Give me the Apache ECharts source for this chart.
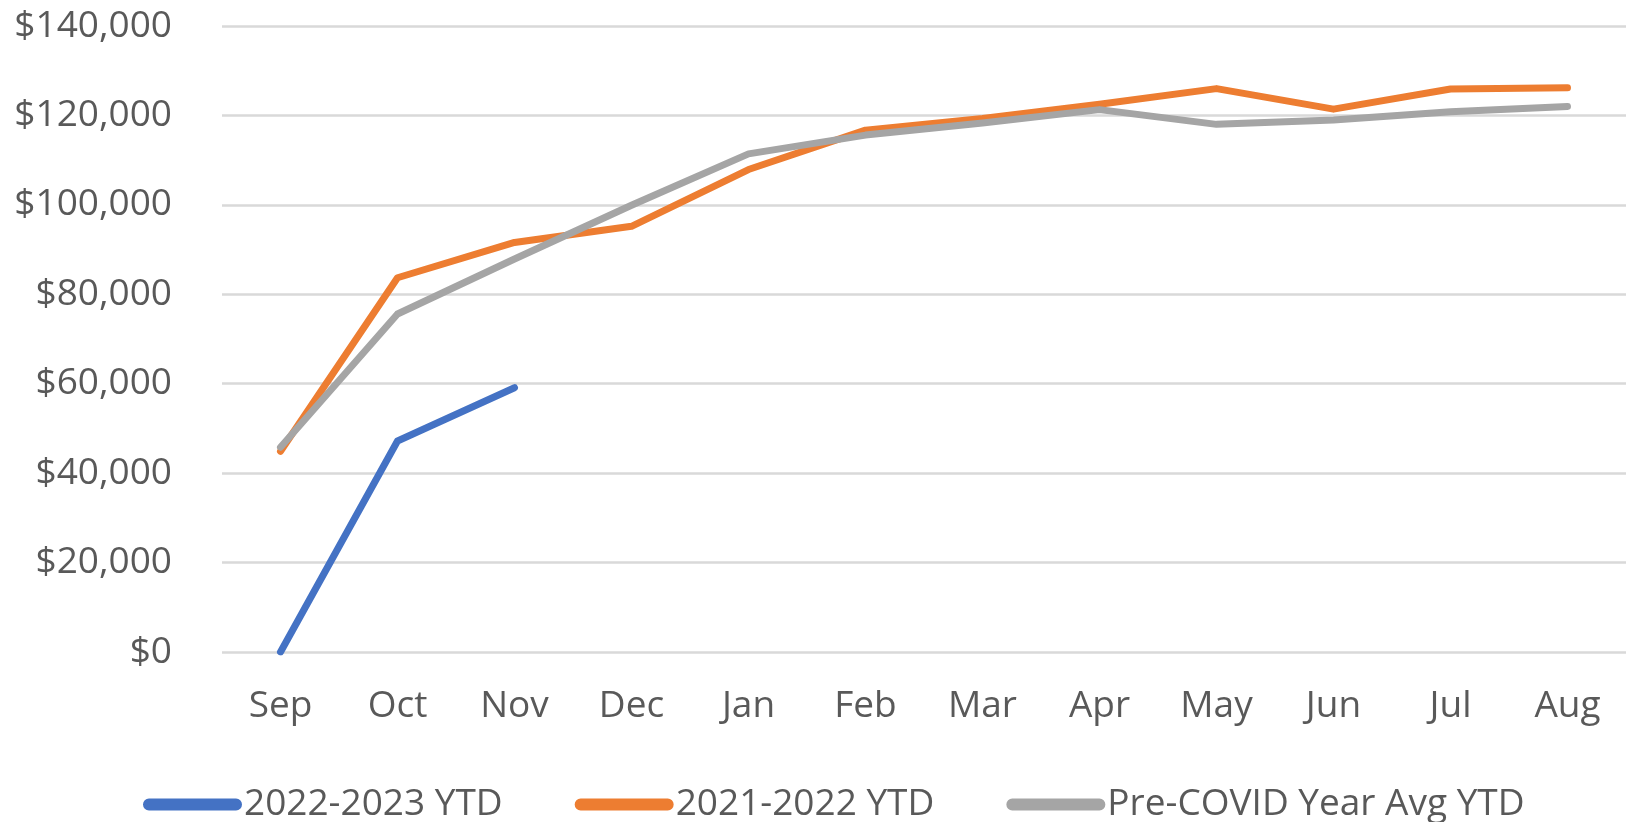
<!DOCTYPE html>
<html>
<head>
<meta charset="utf-8">
<script src="https://cdn.jsdelivr.net/npm/echarts@6/dist/echarts.min.js"></script>
<style>
  html, body { margin: 0; padding: 0; background: #fff; }
  #ytdChart { width: 1631px; height: 822px; }
</style>
</head>
<body>
<div id="ytdChart"></div>
<script>
var months = ['Sep', 'Oct', 'Nov', 'Dec', 'Jan', 'Feb', 'Mar', 'Apr', 'May', 'Jun', 'Jul', 'Aug'];
var ytd2223 = [0, 47200, 59100, null, null, null, null, null, null, null, null, null];
var ytd2122 = [44900, 83700, 91600, 95200, 107900, 116700, 119300, 122500, 126000, 121400, 125900, 126200];
var preCovid = [45800, 75600, 87900, 99900, 111400, 115600, 118300, 121300, 118000, 119000, 120800, 122000];
var yTicks = [0, 20000, 40000, 60000, 80000, 100000, 120000, 140000];

var names = ['2022-2023 YTD', '2021-2022 YTD', 'Pre-COVID Year Avg YTD'];
var colors = ['#4472C4', '#ED7D31', '#A5A5A5'];
var font = '"Open Sans", "Liberation Sans", sans-serif';
var pill = 'path://M6,0 L94,0 A6,6 0 0 1 94,12 L6,12 A6,6 0 0 1 6,0 Z';

function money(v) {
    return '$' + v.toString().replace(/\B(?=(\d{3})+(?!\d))/g, ',');
}

function makeLine(i, data) {
    return {
        name: names[i],
        type: 'line',
        data: data,
        symbol: 'none',
        connectNulls: false,
        lineStyle: { color: colors[i], width: 7, cap: 'round', join: 'round' },
        itemStyle: { color: colors[i] }
    };
}

var myChart = echarts.init(document.getElementById('ytdChart'));
var option = {
    backgroundColor: '#ffffff',
    animation: false,
    color: colors,
    grid: { left: 222, right: 5, top: 26, bottom: 170 },
    legend: {
        left: 138,
        top: 781,
        icon: pill,
        itemWidth: 99,
        itemHeight: 12,
        itemGap: 72,
        itemStyle: { color: 'inherit', borderWidth: 0 },
        lineStyle: { width: 0 },
        textStyle: { color: '#595959', fontSize: 37, fontFamily: font, padding: [0, 0, 0, -3] },
        data: names
    },
    xAxis: {
        type: 'category',
        data: months,
        boundaryGap: true,
        axisLine: { show: false },
        axisTick: { show: false },
        axisLabel: { color: '#595959', fontSize: 37, fontFamily: font, margin: 36 }
    },
    yAxis: {
        type: 'value',
        min: yTicks[0],
        max: yTicks[yTicks.length - 1],
        interval: yTicks[1] - yTicks[0],
        axisLine: { show: false },
        axisTick: { show: false },
        axisLabel: { color: '#595959', fontSize: 37, fontFamily: font, margin: 50, formatter: money },
        splitLine: { lineStyle: { color: '#D9D9D9', width: 2.5 } }
    },
    series: [
        makeLine(0, ytd2223),
        makeLine(1, ytd2122),
        makeLine(2, preCovid)
    ]
};
myChart.setOption(option);
</script>
</body>
</html>
